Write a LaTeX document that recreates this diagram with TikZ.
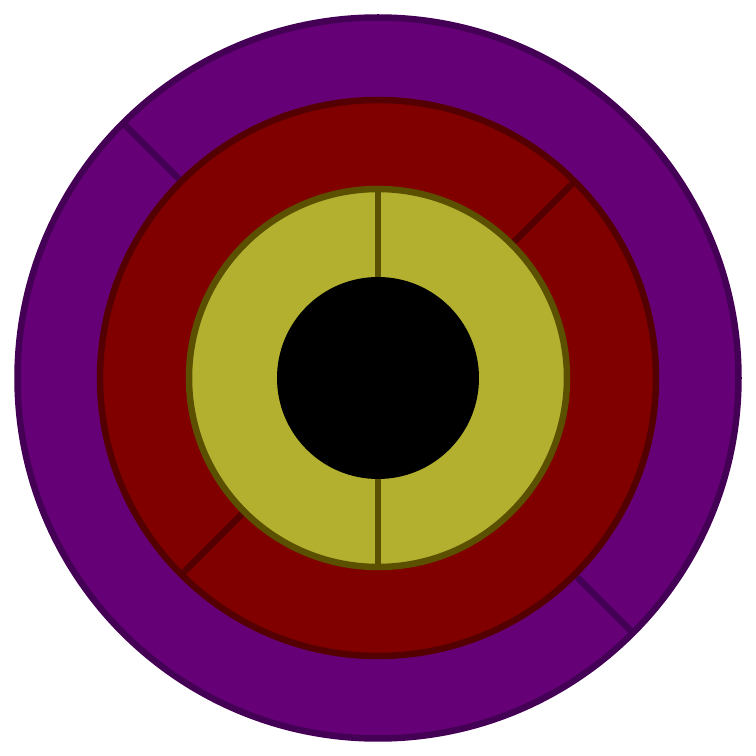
\documentclass[tikz,border=0pt]{standalone}
\usetikzlibrary{calc}
\definecolor{ringpurple}{HTML}{660077}
\definecolor{edgepurple}{HTML}{440055}
\definecolor{ringred}{HTML}{800000}
\definecolor{edgered}{HTML}{550000}
\definecolor{ringolive}{HTML}{B3B030}
\definecolor{edgeolive}{HTML}{5A5000}
\tikzset{
  outerring/.style={fill=ringpurple, draw=edgepurple},
  midring/.style={fill=ringred, draw=edgered},
  innerring/.style={fill=ringolive, draw=edgeolive},
}

\begin{document}
\begin{tikzpicture}[x=1pt, y=1pt, line width=6.5pt]
  \useasboundingbox (0,0) rectangle (756,756);
  \coordinate (c) at (378,378);
  % outer purple ring, split at 135 and -45
  \draw[outerring] (c) circle (360.5);
  \draw[edgepurple] ($(c)+(135:360)$) -- ($(c)+(135:278)$);
  \draw[edgepurple] ($(c)+(-45:360)$) -- ($(c)+(-45:278)$);
  % red ring, split at 45 and 225
  \draw[midring] (c) circle (278);
  \draw[edgered] ($(c)+(45:278)$) -- ($(c)+(45:190)$);
  \draw[edgered] ($(c)+(225:278)$) -- ($(c)+(225:190)$);
  % olive ring, split top and bottom
  \draw[innerring] (c) circle (189);
  \draw[edgeolive] ($(c)+(90:189)$) -- ($(c)+(90:100)$);
  \draw[edgeolive] ($(c)+(270:189)$) -- ($(c)+(270:100)$);
  % black core
  \fill[black] (c) circle (101);
\end{tikzpicture}
\end{document}
